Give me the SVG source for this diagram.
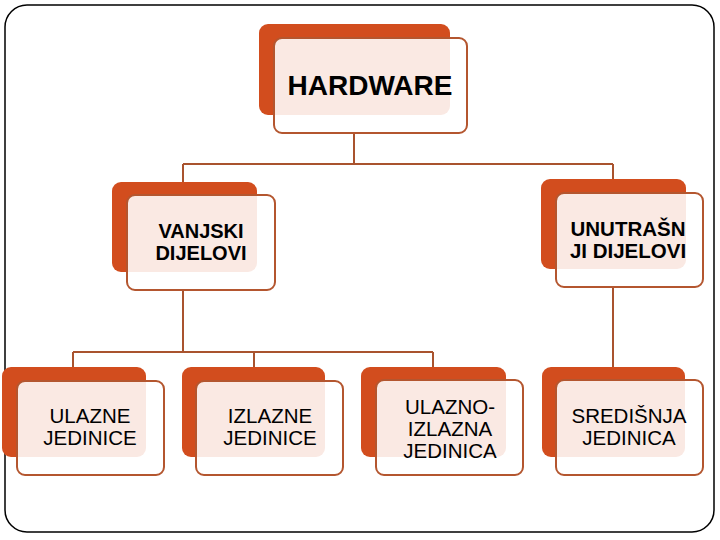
<svg xmlns="http://www.w3.org/2000/svg" width="720" height="540" viewBox="0 0 720 540">
<style>
.back{fill:#d24d1e;}
.front{fill:#ffffff;fill-opacity:0.88;stroke:#b4562f;stroke-width:2;}
.conn{fill:none;stroke:#a9532e;stroke-width:2;}
.tb{font-family:"Liberation Sans",Arial,sans-serif;font-weight:bold;fill:#000;text-anchor:middle;}
.tr{font-family:"Liberation Sans",Arial,sans-serif;font-size:20.5px;fill:#000;text-anchor:middle;}
</style>
<rect x="0" y="0" width="720" height="540" fill="#ffffff"/>
<rect x="5" y="5" width="709" height="527" rx="22" ry="22" fill="none" stroke="#000" stroke-width="1.5"/>
<g id="connectors">
<path class="conn" d="M354 133 V164 M183 164 H613 M183 164 V182 M613 164 V179"/>
<path class="conn" d="M183 290 V352 M73 352 H433 M73 352 V367 M254 352 V367 M433 352 V367"/>
<path class="conn" d="M613 287 V367"/>
</g>
<g id="hardware">
<rect class="back" x="259" y="24" width="191" height="91" rx="9"/>
<rect class="front" x="274" y="38" width="193" height="95" rx="8"/>
<text class="tb" x="370" y="95" font-size="28">HARDWARE</text>
</g>
<g id="vanjski">
<rect class="back" x="112" y="182" width="145" height="90" rx="9"/>
<rect class="front" x="127" y="195" width="148" height="95" rx="8"/>
<text class="tb" x="201" y="238" font-size="20">VANJSKI</text>
<text class="tb" x="201" y="260" font-size="20">DIJELOVI</text>
</g>
<g id="unutrasnji">
<rect class="back" x="541" y="179" width="145" height="90" rx="9"/>
<rect class="front" x="556" y="193" width="147" height="94" rx="8"/>
<text class="tb" x="628" y="236" font-size="20.5">UNUTRAŠN</text>
<text class="tb" x="628" y="258" font-size="20.5">JI DIJELOVI</text>
</g>
<g id="ulazne">
<rect class="back" x="2" y="367" width="144" height="90" rx="9"/>
<rect class="front" x="17" y="381" width="147" height="94" rx="8"/>
<text class="tr" x="90" y="423">ULAZNE</text>
<text class="tr" x="90" y="445">JEDINICE</text>
</g>
<g id="izlazne">
<rect class="back" x="182" y="367" width="143" height="90" rx="9"/>
<rect class="front" x="196" y="381" width="147" height="94" rx="8"/>
<text class="tr" x="270" y="423">IZLAZNE</text>
<text class="tr" x="270" y="445">JEDINICE</text>
</g>
<g id="ulazno-izlazna">
<rect class="back" x="361" y="367" width="145" height="90" rx="9"/>
<rect class="front" x="376" y="380" width="147" height="95" rx="8"/>
<text class="tr" x="450" y="414">ULAZNO-</text>
<text class="tr" x="450" y="436">IZLAZNA</text>
<text class="tr" x="450" y="458">JEDINICA</text>
</g>
<g id="sredisnja">
<rect class="back" x="542" y="367" width="143" height="90" rx="9"/>
<rect class="front" x="556" y="380" width="147" height="95" rx="8"/>
<text class="tr" x="629" y="423">SREDIŠNJA</text>
<text class="tr" x="629" y="445">JEDINICA</text>
</g>
</svg>
